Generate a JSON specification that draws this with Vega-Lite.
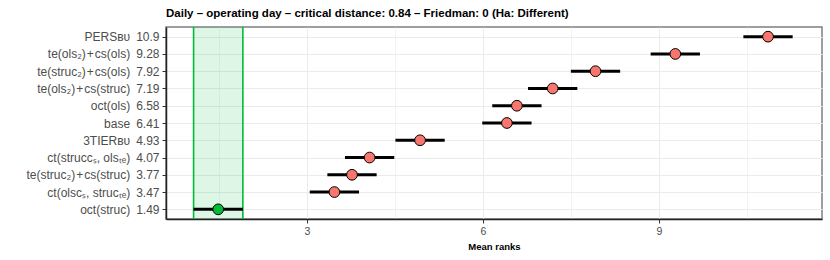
{
  "$schema": "https://vega.github.io/schema/vega-lite/v6.json",
  "width": 656,
  "height": 192,
  "autosize": {"type": "none"},
  "padding": {"left": 166, "top": 27, "right": 8, "bottom": 41},
  "background": "white",
  "title": {
    "text": "Daily – operating day – critical distance: 0.84 – Friedman: 0 (Ha: Different)",
    "anchor": "start",
    "frame": "group",
    "font": "Liberation Sans",
    "fontSize": 11.5,
    "fontWeight": "bold",
    "color": "black",
    "offset": 7
  },
  "config": {
    "view": {"stroke": "#7f7f7f", "strokeWidth": 1.5},
    "axis": {
      "labelFont": "Liberation Sans",
      "titleFont": "Liberation Sans",
      "labelColor": "#4d4d4d",
      "domainColor": "#222222",
      "domainWidth": 1.5,
      "tickColor": "#333333",
      "tickSize": 4,
      "gridColor": "#ebebeb",
      "gridWidth": 1.1
    }
  },
  "data": {
    "values": [
      {"name": "PERSʙᴜ\u200210.9", "rank": 10.86, "best": "no"},
      {"name": "te(ols₂)\u200a+\u200acs(ols)\u20029.28", "rank": 9.28, "best": "no"},
      {"name": "te(struc₂)\u200a+\u200acs(ols)\u20027.92", "rank": 7.92, "best": "no"},
      {"name": "te(ols₂)\u200a+\u200acs(struc)\u20027.19", "rank": 7.19, "best": "no"},
      {"name": "oct(ols)\u20026.58", "rank": 6.58, "best": "no"},
      {"name": "base\u20026.41", "rank": 6.41, "best": "no"},
      {"name": "3TIERʙᴜ\u20024.93", "rank": 4.93, "best": "no"},
      {"name": "ct(strucᴄₛ, olsₜₑ)\u20024.07", "rank": 4.07, "best": "no"},
      {"name": "te(struc₂)\u200a+\u200acs(struc)\u20023.77", "rank": 3.77, "best": "no"},
      {"name": "ct(olsᴄₛ, strucₜₑ)\u20023.47", "rank": 3.47, "best": "no"},
      {"name": "oct(struc)\u20021.49", "rank": 1.49, "best": "yes"}
    ]
  },
  "transform": [
    {"calculate": "datum.rank - 0.42", "as": "lo"},
    {"calculate": "datum.rank + 0.42", "as": "hi"}
  ],
  "layer": [
    {
      "data": {"values": [{"lo": 1.07, "hi": 1.91}]},
      "transform": [],
      "mark": {"type": "rect", "fill": "#00BA38", "fillOpacity": 0.13},
      "encoding": {
        "x": {"field": "lo", "type": "quantitative"},
        "x2": {"field": "hi"}
      }
    },
    {
      "data": {"values": [{"v": 1.07}, {"v": 1.91}]},
      "transform": [],
      "mark": {"type": "rule", "color": "#00BA38", "strokeWidth": 1.6},
      "encoding": {
        "x": {"field": "v", "type": "quantitative"}
      }
    },
    {
      "mark": {"type": "rule", "color": "black", "strokeWidth": 3},
      "encoding": {
        "y": {
          "field": "name",
          "type": "nominal",
          "sort": {"field": "rank", "order": "descending"},
          "scale": {"type": "point", "padding": 0.56},
          "axis": {
            "title": null,
            "labelFontSize": 12,
            "labelPadding": 3,
            "domain": true,
            "grid": true
          }
        },
        "x": {
          "field": "lo",
          "type": "quantitative",
          "scale": {"domain": [0.6, 11.78], "nice": false, "zero": false},
          "axis": {
            "values": [1.5, 3, 4.5, 6, 7.5, 9, 10.5],
            "labelExpr": "datum.value % 3 == 0 ? format(datum.value, 'd') : ''",
            "tickOpacity": {"condition": {"test": "datum.value % 3 != 0", "value": 0}, "value": 1},
            "gridWidth": {"condition": {"test": "datum.value % 3 != 0", "value": 0.6}, "value": 1.1},
            "title": "Mean ranks",
            "titleFontSize": 9.5,
            "titleFontWeight": "bold",
            "titleColor": "black",
            "titlePadding": 5,
            "labelFontSize": 10.5,
            "labelPadding": 3
          }
        },
        "x2": {"field": "hi"}
      }
    },
    {
      "mark": {"type": "point", "filled": true, "size": 115, "stroke": "black", "strokeWidth": 1, "opacity": 1},
      "encoding": {
        "y": {"field": "name", "type": "nominal", "sort": {"field": "rank", "order": "descending"}},
        "x": {"field": "rank", "type": "quantitative"},
        "fill": {
          "field": "best",
          "type": "nominal",
          "scale": {"domain": ["no", "yes"], "range": ["#F8766D", "#00BA38"]},
          "legend": null
        }
      }
    }
  ]
}
